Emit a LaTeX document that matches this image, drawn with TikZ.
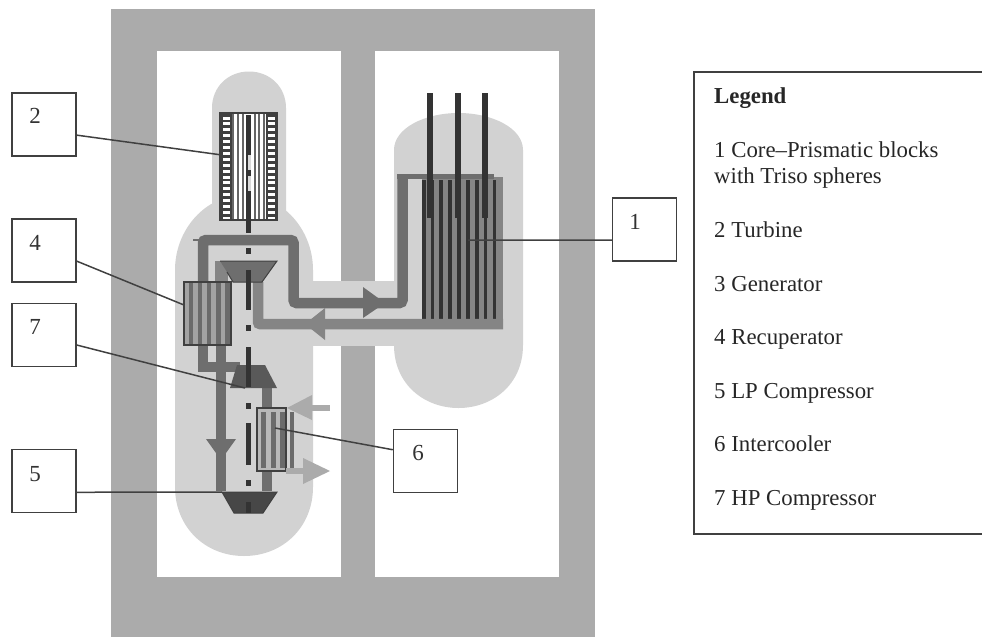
\documentclass[tikz,border=0pt]{standalone}
\usepackage{fontspec}
\setmainfont{Liberation Serif}
\usepackage{xcolor}
\usetikzlibrary{arrows.meta}
\definecolor{wallgray}{HTML}{ABABAB}
\definecolor{vesselgray}{HTML}{D2D2D2}
\definecolor{hotgray}{HTML}{6E6E6E}
\definecolor{coldgray}{HTML}{858585}
\definecolor{coolgray}{HTML}{ABABAB}
\definecolor{rodgray}{HTML}{333333}
\definecolor{linegray}{HTML}{404040}
\begin{document}
\begin{tikzpicture}[x=1pt,y=-1pt,
  vessel/.style={fill=vesselgray,draw=none},
  hotpipe/.style={draw=hotgray,line width=10.5pt,rounded corners=3pt},
  coldpipe/.style={draw=coldgray,line width=10.5pt,rounded corners=2pt},
  shaftdash/.style={draw=rodgray,line width=5pt},
  numbox/.style={draw=linegray,fill=white,line width=1.5pt,minimum width=64pt,minimum height=63pt,inner sep=0pt},
  numtext/.style={font=\fontsize{23}{26}\selectfont,text=black!80,inner sep=0pt},
  leader/.style={draw=linegray,line width=1.5pt},
  legtext/.style={anchor=base west,font=\fontsize{22.8}{26}\selectfont,text=black!85,inner sep=0pt}]
  \useasboundingbox (0,0) rectangle (982,637);
  % building and rooms
  \fill[wallgray] (111,9) rectangle (595,637);
  \fill[white] (157,51) rectangle (341,577);
  \fill[white] (375,51) rectangle (559,577);
  % vessels and duct
  \path[vessel] (394,345) -- (394,150) .. controls (394,128) and (425,113) .. (458.5,113)
    .. controls (492,113) and (523,128) .. (523,150) -- (523,345)
    .. controls (523,385) and (492,408) .. (458.5,408) .. controls (425,408) and (394,385) .. (394,345) -- cycle;
  \path[vessel] (175,270) .. controls (175,230) and (205,195) .. (244,195)
    .. controls (283,195) and (313,230) .. (313,270) -- (313,487)
    .. controls (313,527) and (283,556) .. (244,556) .. controls (205,556) and (175,527) .. (175,487) -- cycle;
  \path[vessel] (212,240) -- (212,108) .. controls (212,87) and (228,71.5) .. (249,71.5)
    .. controls (270,71.5) and (286,87) .. (286,108) -- (286,240) -- cycle;
  \fill[vesselgray] (300,281) rectangle (400,346);
  % core with control rods
  \fill[coldgray] (422,177) rectangle (503,329);
  \foreach \i in {0,...,8}
    \fill[rodgray] (421.7+8.85*\i,180) rectangle ++(3.8,139);
  \draw[hotpipe] (203,345) -- (203,240) -- (293.5,240) -- (293.5,303) -- (402.5,303) -- (402.5,179);
  \draw[draw=hotgray,line width=5.5pt] (397,176.5) -- (494,176.5);
  \draw[draw=hotgray,line width=1.5pt] (193,240) -- (200,240);
  \fill[hotgray] (363,287) -- (385,303) -- (363,318) -- cycle;
  \foreach \x in {430,457.5,485}
    \fill[rodgray] (\x-3,93) rectangle (\x+3,218);
  % return pipe and arrow
  \draw[coldpipe] (258,282) -- (258,324) -- (503,324);
  \fill[coldgray] (305,324) -- (325,308) -- (325,340) -- cycle;
  \draw[draw=coldgray,line width=13pt] (221.5,261) -- (221.5,283);
  % turbine
  \fill[white] (220,113) rectangle (277,220);
  \foreach \x in {232.7,238.3,242.7,255,259.3,264}
    \draw[draw=black!60,line width=2pt] (\x,114) -- (\x,219);
  \fill[linegray] (221,114) rectangle (232,219);
  \fill[linegray] (266,114) rectangle (276,219);
  \foreach \i in {0,...,17} {
    \fill[white] (223,116.5+5.9*\i) rectangle (230,119.5+5.9*\i);
    \fill[white] (267.5,116.5+5.9*\i) rectangle (275,119.5+5.9*\i);
  }
  \draw[draw=linegray,line width=1.2pt] (220,113) rectangle (277,220);
  \draw[shaftdash] (248.7,115) -- (248.7,233);
  \fill[white!85!black] (247.5,155) rectangle (250.5,170);
  \fill[white!85!black] (247.5,176) rectangle (250.5,191);
  % hot side machines
  \fill[hotgray] (220,261) -- (277,261) -- (262,282) -- (233,282) -- (227,272) -- cycle;
  \draw[draw=linegray,line width=1pt] (220,261) -- (277,261) -- (262,282) -- (233,282) -- (227,272);
  \draw[hotpipe,rounded corners=0pt] (203,345) -- (203,367) -- (240,367);
  \draw[draw=hotgray,line width=10.5pt] (221,345) -- (221,491);
  \fill[hotgray] (206,439) -- (236,439) -- (221,460) -- cycle;
  \draw[draw=hotgray,line width=10.5pt] (267,388) -- (267,491);
  \fill[black!65] (237,365) -- (265,365) -- (277,388) -- (230,388) -- cycle;
  % recuperator
  \fill[black!36] (184,282) rectangle (231,345);
  \foreach \i in {0,...,4}
    \fill[black!58] (188.5+9.2*\i,283) rectangle ++(4.5,61);
  \draw[draw=linegray,line width=1.2pt] (184,282) rectangle (231,345);
  % intercooler
  \fill[black!28] (257,408) rectangle (286,471);
  \foreach \x in {261,270.7,280,289.5}
    \fill[black!58] (\x,412) rectangle ++(4.8,56);
  \draw[draw=linegray,line width=1.2pt] (257,408) rectangle (286,471);
  \draw[draw=coolgray,line width=5.5pt] (310,408) -- (330,408);
  \fill[coolgray] (287,408) -- (312,395) -- (312,420) -- cycle;
  \draw[draw=coolgray,line width=6pt] (286,471) -- (304,471);
  \fill[coolgray] (330,471) -- (303,458) -- (303,484) -- cycle;
  % LP compressor
  \fill[black!72] (222,492) -- (277,492) -- (263,513) -- (234,513) -- cycle;
  \draw[draw=linegray,line width=1pt] (222,492) -- (277,492) -- (263,513) -- (234,513) -- cycle;
  % shaft
  \foreach \ya/\yb in {270/310,347/387,423/465,502/513}
    \draw[shaftdash] (248.7,\ya) -- (248.7,\yb);
  \foreach \ya in {251,328,406,483}
    \fill[rodgray] (246,\ya-2.7) rectangle (251.4,\ya+2.7);
  % numbered boxes
  \node[numbox] (box2) at (44,124.5) {};
  \node[numbox] (box4) at (44,250.5) {};
  \node[numbox] (box7) at (44,335) {};
  \node[numbox] (box5) at (44,481) {};
  \node[numbox] (box1) at (644.5,229.5) {};
  \node[numbox] (box6) at (425.5,461) {};
  \node[numtext] (num2) at (35,116) {2};
  \node[numtext] (num4) at (35,243) {4};
  \node[numtext] (num7) at (35,327) {7};
  \node[numtext] (num5) at (35,474) {5};
  \node[numtext] (num1) at (635,222) {1};
  \node[numtext] (num6) at (418,453) {6};
  \coordinate (turbine) at (222,155);
  \coordinate (recup) at (184,305);
  \coordinate (hpcomp) at (245,388);
  \coordinate (lpcomp) at (222,492);
  \coordinate (core) at (468,240);
  \coordinate (cooler) at (275,428);
  \draw[leader] (box2.-18) -- (turbine);
  \draw[leader] (box4.-18) -- (recup);
  \draw[leader] (box7.-17) -- (hpcomp);
  \draw[leader] (box5.-19) -- (lpcomp);
  \draw[leader] (box1.198) -- (core);
  \draw[leader] (box6.161) -- (cooler);
  % legend
  \draw[draw=linegray,line width=1.5pt] (982,72) -- (694,72) -- (694,534) -- (982,534);
  \node[legtext,font=\fontsize{22.8}{26}\selectfont\bfseries] (legtitle) at (714,103) {Legend};
  \node[legtext] (leg1) at (714,157) {1 Core--Prismatic blocks};
  \node[legtext] (leg1b) at (714,183) {with Triso spheres};
  \foreach \y/\txt [count=\i from 2] in {237/2 Turbine,291/3 Generator,344/4 Recuperator,398/5 LP Compressor,451/6 Intercooler,505/7 HP Compressor}
    \node[legtext] (leg\i) at (714,\y) {\txt};
\end{tikzpicture}
\end{document}
